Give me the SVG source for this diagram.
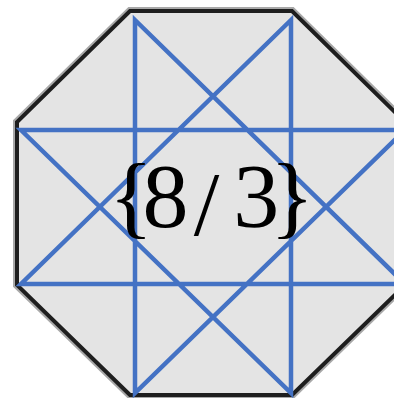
<svg xmlns="http://www.w3.org/2000/svg" width="394" height="398" viewBox="0 0 394 398">
<style>
.oct-halo{fill:none;stroke:#a8a8a8;stroke-width:8;stroke-linejoin:miter}
.oct{fill:#e4e4e4;stroke:#1e1e1e;stroke-width:4;stroke-linejoin:miter}
.star{fill:none;stroke:#4472c4;stroke-width:4.5;stroke-linejoin:miter}
.lbl{font-family:"Liberation Serif","Times New Roman",serif;font-size:92px;fill:#000}
</style>
<rect width="394" height="398" fill="#ffffff"/>
<g id="octagon">
<polygon class="oct-halo" points="130,11 292,11 405,122 405,285 292,395 130,395 17,285 17,122"/>
<polygon class="oct" points="130,11 292,11 405,122 405,285 292,395 130,395 17,285 17,122"/>
</g>
<g id="connectors">
<polygon class="star" points="135,20 405,284 21,284 291,20 291,393 21,130 405,130 135,393"/>
</g>
<g id="label">
<text class="lbl" x="109" y="227" dx="0 -10.7 5.2 13.9 -9.2" dy="0 0 8 -8 0">{8/3}</text>
</g>
</svg>
